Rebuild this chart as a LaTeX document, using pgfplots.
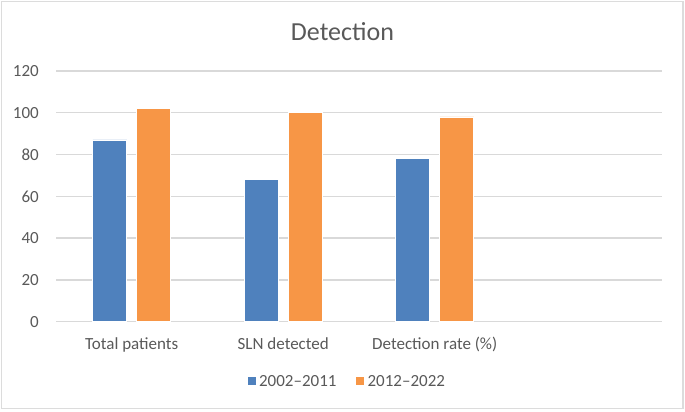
\documentclass[border=0pt]{standalone}
\usepackage{fontspec}
\setmainfont{Carlito}
\usepackage{pgfplots}
\pgfplotsset{compat=1.18}
\definecolor{seriesblue}{HTML}{4F81BD}
\definecolor{seriesorange}{HTML}{F79646}
\definecolor{gridgray}{HTML}{D9D9D9}
\definecolor{framegray}{HTML}{DCDCDC}
\definecolor{textgray}{HTML}{595959}

\begin{document}
\begin{tikzpicture}[x=1bp,y=1bp]
% page extent and chart frame
\path (0,0) rectangle (685,411);
\draw[framegray, line width=1.5bp] (1.5,2.5) rectangle (683,409.5);
\node[anchor=base, text=textgray, inner sep=0pt,
      font=\fontsize{26bp}{30bp}\selectfont] at (342.5,370.3) {Detection};
\begin{axis}[
  at={(56bp,89.3bp)}, anchor=south west,
  scale only axis, width=606bp, height=250.7bp,
  ymin=0, ymax=120, ytick={0,20,...,120},
  xmin=-0.5, xmax=3.5,
  xtick={0,1,2},
  xticklabels={Total patients, SLN detected, Detection rate (\%)},
  ybar=10bp, bar width=34bp,
  axis line style={draw=none},
  tick style={draw=none},
  major tick length=0pt,
  ymajorgrids, grid style={gridgray, line width=1.3bp},
  /pgf/number format/assume math mode=true,
  yticklabel style={text=textgray, inner sep=0pt, anchor=east, xshift=-17bp,
      font=\fontsize{17bp}{20bp}\selectfont},
  xticklabel style={text=textgray, inner sep=0pt, anchor=base, yshift=-27.3bp,
      font=\fontsize{17bp}{20bp}\selectfont},
  legend columns=2,
  legend style={at={(0.4785,-0.2377)}, anchor=center, draw=none, fill=none,
      inner sep=0pt, nodes={inner sep=0pt},
      font=\fontsize{17bp}{20bp}\selectfont, text=textgray,
      /tikz/every odd column/.append style={column sep=2.5bp},
      /tikz/every even column/.append style={column sep=19bp}},
  legend image code/.code={\fill[#1] (0bp,-4.5bp) rectangle (9bp,4.5bp);},
]
\addplot[fill=seriesblue, draw=white, line width=0.6bp]
  coordinates {(0,87) (1,68) (2,78)};
\addplot[fill=seriesorange, draw=white, line width=0.6bp]
  coordinates {(0,102) (1,100) (2,98)};
\legend{2002--2011, 2012--2022}
\end{axis}
\end{tikzpicture}
\end{document}
